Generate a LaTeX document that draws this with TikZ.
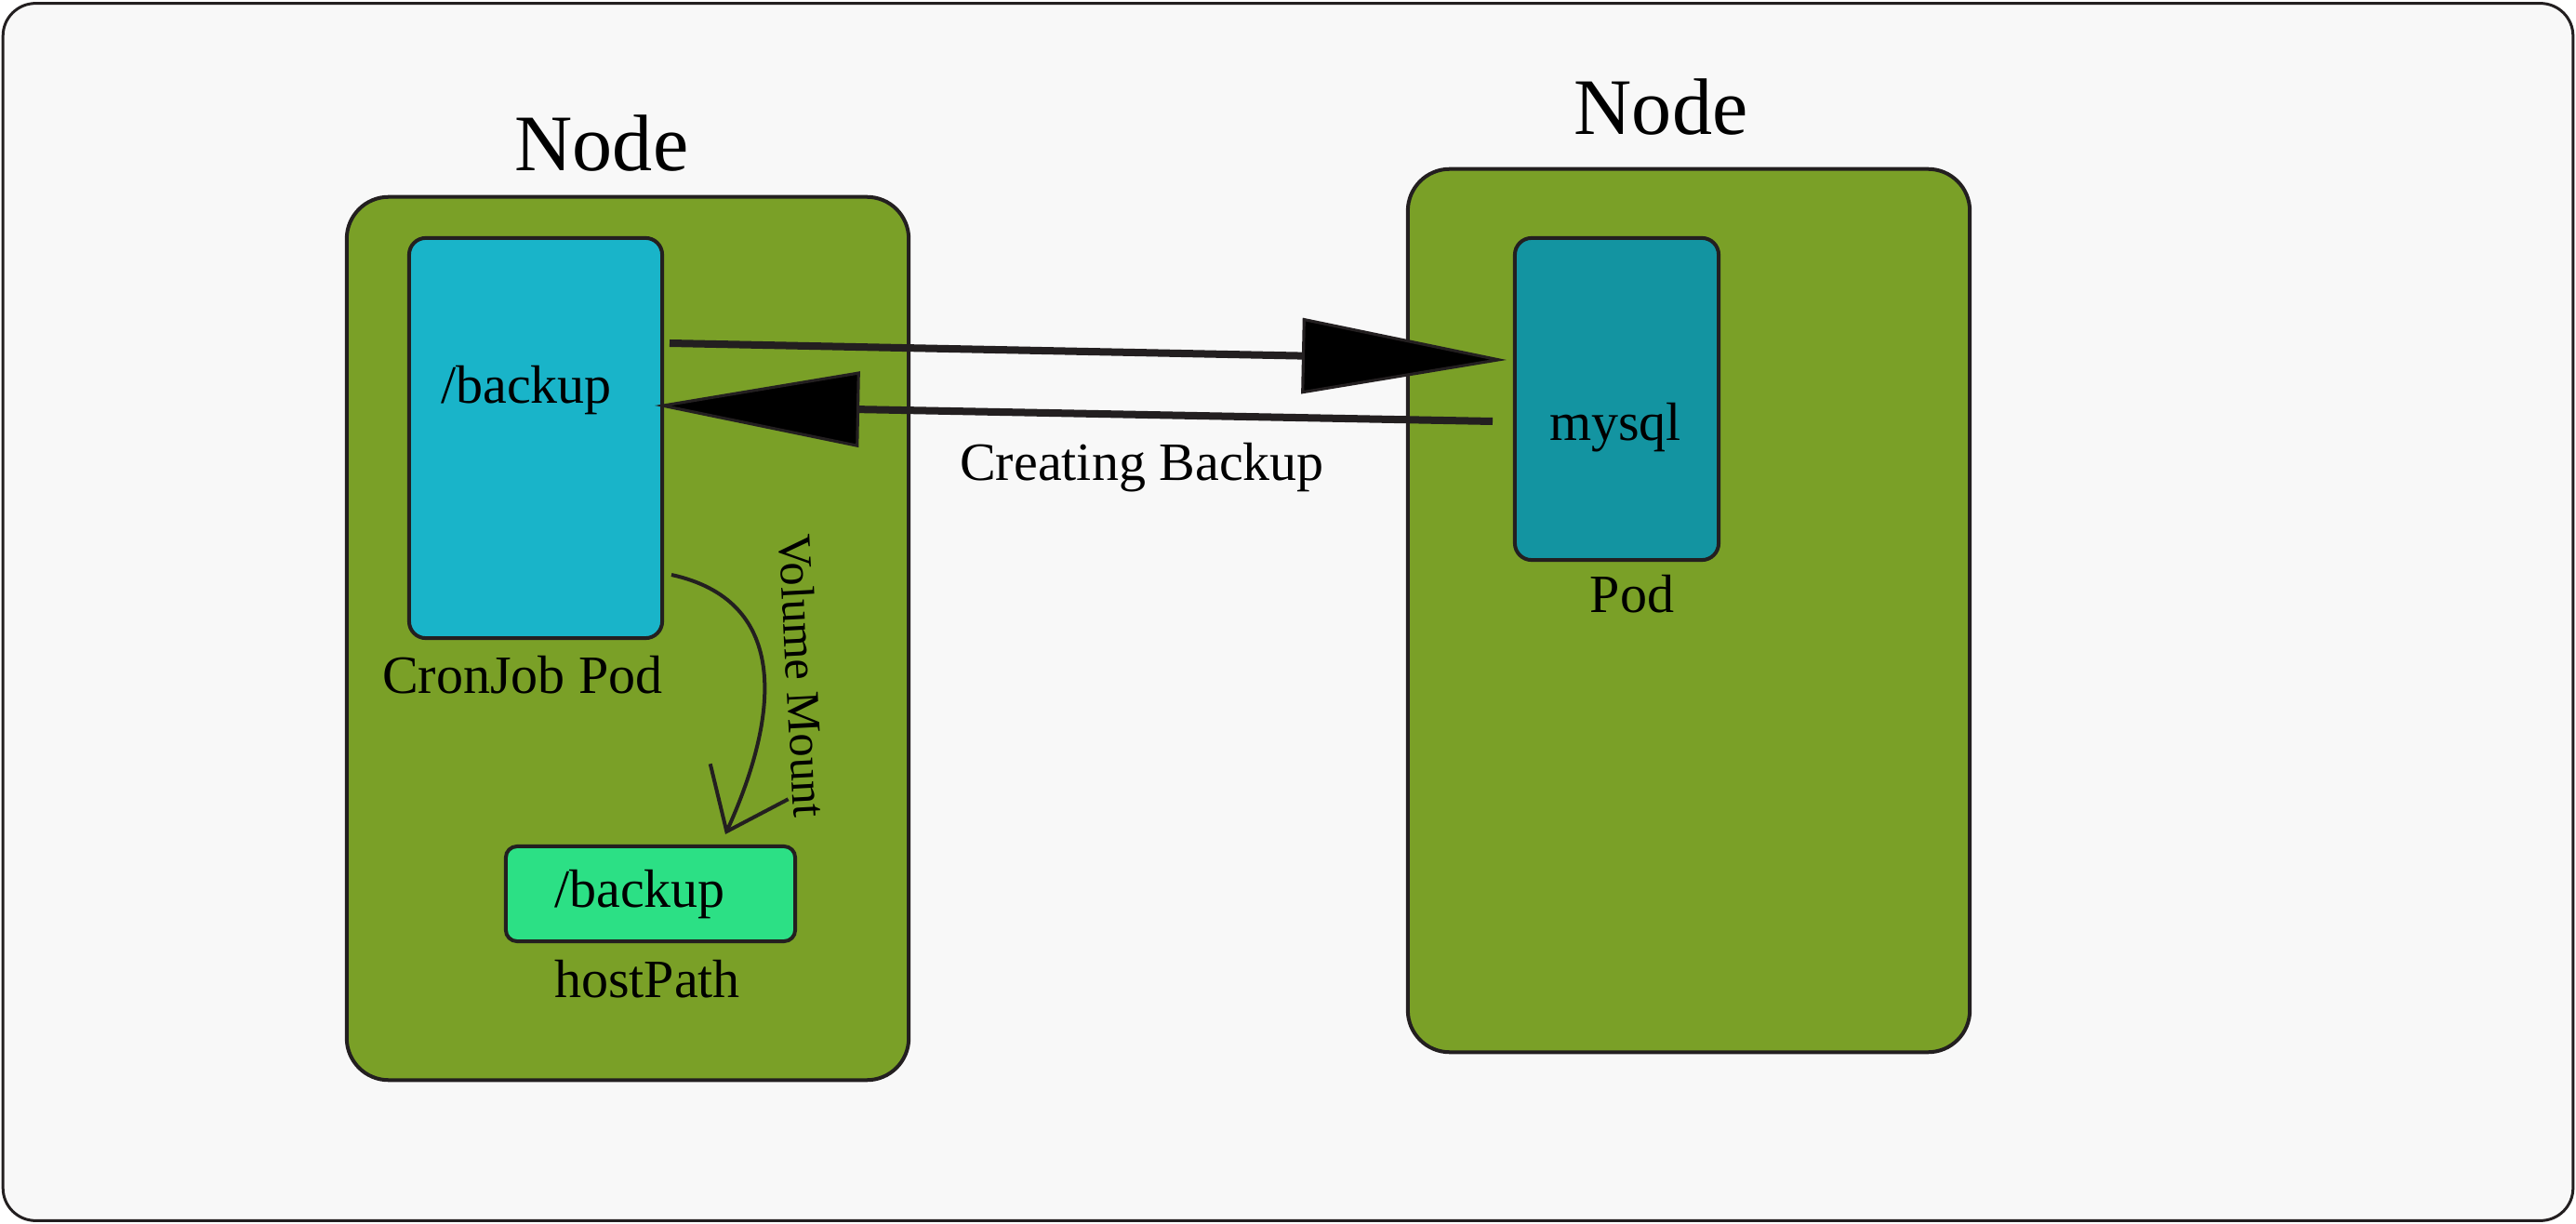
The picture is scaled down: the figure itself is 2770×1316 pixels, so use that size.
\documentclass[tikz,border=0pt]{standalone}
\usepackage{fontspec}
\setmainfont{Liberation Serif}
\usetikzlibrary{arrows.meta}
\definecolor{bg}{HTML}{F8F8F8}
\definecolor{edge}{HTML}{231F20}
\definecolor{nodegreen}{HTML}{7AA027}
\definecolor{croncyan}{HTML}{19B4C9}
\definecolor{mysqlteal}{HTML}{1394A1}
\definecolor{hostgreen}{HTML}{2CE085}
\begin{document}
\begin{tikzpicture}[x=0.01cm,y=-0.01cm,
  box/.style={draw=edge,line width=0.04cm,inner sep=0pt,outer sep=0pt},
  nodebox/.style={box,fill=nodegreen,minimum width=6.04cm,minimum height=9.49cm,rounded corners=0.45cm},
  podbox/.style={box,rounded corners=0.18cm},
  lbl/.style={font=\fontsize{16.5}{20}\selectfont,anchor=base,inner sep=0pt},
  titlelbl/.style={font=\fontsize{24.5}{29}\selectfont,anchor=base,inner sep=0pt},
  bigarrow/.style={draw=edge,line width=0.08cm,-{Triangle[length=2.2cm,width=0.81cm,fill=black,line width=0.9pt]}},
]
\useasboundingbox (0,0) rectangle (2770,1316);
\node[box,fill=bg,line width=0.03cm,rounded corners=0.35cm,minimum width=27.62cm,minimum height=13.08cm] (frame) at (1385,658) {};

% Nodes
\node[nodebox] (leftnode) at (675,686.5) {};
\node[nodebox] (rightnode) at (1816,656.5) {};
\node[titlelbl] (lefttitle) at (647,184) {Node};
\node[titlelbl] (righttitle) at (1786,145) {Node};

% Pods
\node[podbox,fill=croncyan,minimum width=2.72cm,minimum height=4.30cm] (cron) at (576,471) {};
\node[podbox,fill=mysqlteal,minimum width=2.19cm,minimum height=3.46cm] (mysql) at (1738.5,429) {};
\node[box,fill=hostgreen,rounded corners=0.12cm,minimum width=3.11cm,minimum height=1.02cm] (host) at (699.5,961) {};

% Labels
\node[lbl] (cronpath) at (566,434) {/backup};
\node[lbl] (cronlbl) at (562,745) {CronJob Pod};
\node[lbl] (mysqltxt) at (1737,474) {mysql};
\node[lbl] (podlbl) at (1755,659) {Pod};
\node[lbl] (hostpath) at (688,975) {/backup};
\node[lbl] (hostlbl) at (696,1072) {hostPath};
\node[lbl] (creating) at (1228,517) {Creating Backup};
\node[font=\fontsize{14.4}{17}\selectfont,inner sep=0pt,rotate=-87] (volmount) at (863,727) {Volume Mount};

% Connectors
\coordinate (a1s) at (720,369);
\coordinate (a1e) at (1620,387);
\coordinate (a2s) at (1605,453);
\coordinate (a2e) at (704,436);
\draw[bigarrow] (a1s) -- (a1e);
\draw[bigarrow] (a2s) -- (a2e);

\coordinate (vs) at (722,618);
\coordinate (ve) at (780,897);
\draw[edge,line width=0.04cm,-{Straight Barb[length=0.59cm,width=0.92cm]}] (vs) .. controls (845,645) and (842,760) .. (ve);
\end{tikzpicture}
\end{document}
